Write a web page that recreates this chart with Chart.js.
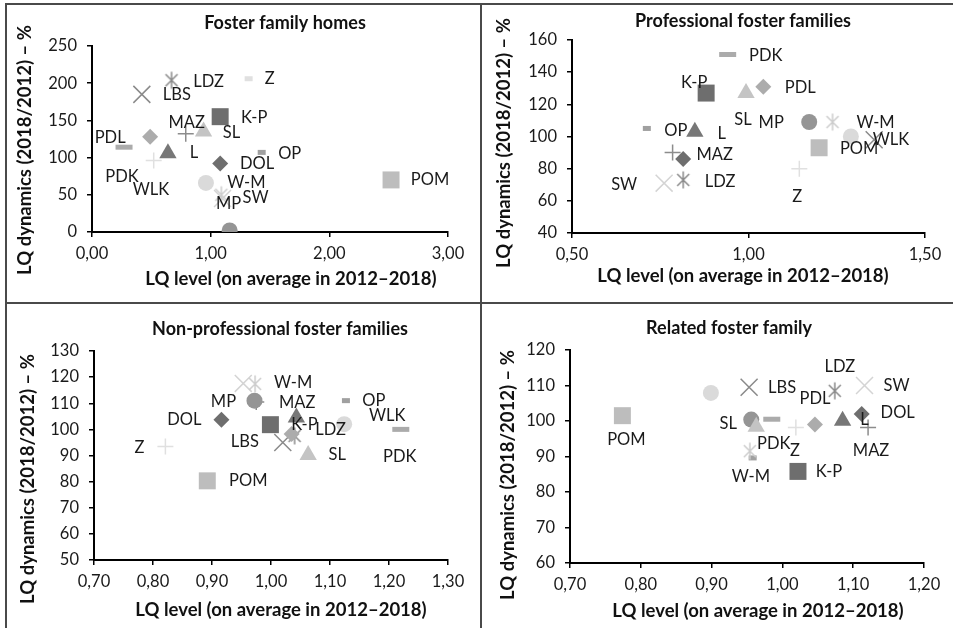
<!DOCTYPE html>
<html>
<head>
<meta charset="utf-8">
<script src="https://cdn.jsdelivr.net/npm/chart.js@4.4.0/dist/chart.umd.min.js"></script>
<style>
  body { margin: 0; background: #fff; width: 953px; height: 628px; position: relative; overflow: hidden; }
  .panel { position: absolute; }
  .rule { position: absolute; background: #4a4a4a; }
</style>
</head>
<body>
<div class="rule" style="left:5px;top:3px;width:948px;height:2px"></div>
<div class="rule" style="left:5px;top:3px;width:2px;height:625px"></div>
<div class="rule" style="left:480px;top:3px;width:2px;height:625px"></div>
<div class="rule" style="left:5px;top:302px;width:948px;height:2px"></div>

<div class="panel" style="left:7px;top:5px;width:473px;height:297px"><canvas id="c1"></canvas></div>
<div class="panel" style="left:482px;top:5px;width:471px;height:297px"><canvas id="c2"></canvas></div>
<div class="panel" style="left:7px;top:304px;width:473px;height:324px"><canvas id="c3"></canvas></div>
<div class="panel" style="left:482px;top:304px;width:471px;height:324px"><canvas id="c4"></canvas></div>

<script>
// --- data ---
var regions = ['DOL', 'K-P', 'L', 'LBS', 'LDZ', 'MAZ', 'MP', 'OP', 'PDK', 'PDL', 'POM', 'SL', 'SW', 'W-M', 'WLK', 'Z'];

// Foster family homes
var homesX = [1.08, 1.08, 0.64, 0.42, 0.67, 0.79, 1.16, 1.43, 0.27, 0.49, 2.52, 0.94, 1.10, 1.09, 0.96, 0.52];
var homesY = [92, 155, 106, 185, 204, 132, 2, 107, 114, 128, 70, 135, 45, 50, 66, 96];
var homesExtraX = [1.32];   // unlabelled marker near the top
var homesExtraY = [206];

// Professional foster families
var profX = [0.815, 0.88, 0.848, 1.356, 0.815, 0.785, 1.172, 0.712, 0.941, 1.042, 1.20, 0.993, 0.761, 1.238, 1.29, 1.144];
var profY = [86, 127, 103, 98, 73, 90, 109, 105, 151, 131, 93, 127, 71, 109, 100, 80];

// Non-professional foster families
var nonProfX = [0.916, 0.999, 1.043, 1.02, 1.04, 0.975, 0.972, 1.127, 1.22, 1.035, 0.892, 1.063, 0.953, 0.973, 1.124, 0.821];
var nonProfY = [103.7, 101.8, 104.5, 95, 97.5, 110.5, 111, 111, 100, 98.2, 80.3, 90.2, 117.6, 117.4, 102, 93.4];

// Related foster family
var relX = [1.112, 1.022, 1.085, 0.953, 1.074, 1.121, 0.956, 0.958, 0.985, 1.046, 0.774, 0.963, 1.116, 0.954, 0.899, 1.019];
var relY = [102, 85.8, 100.1, 109.5, 108.5, 98.2, 100.4, 89.6, 100.5, 99, 101.5, 98.4, 110, 91.5, 107.9, 98.2];

var xTitle = 'LQ level (on average in 2012–2018)';
var yTitle = 'LQ dynamics (2018/2012) – %';

// --- marker styles (Excel-like grey markers) ---
function asterisk(color) {
  var c = document.createElement('canvas');
  c.width = 20; c.height = 20;
  var g = c.getContext('2d');
  g.strokeStyle = color; g.lineWidth = 1.5;
  g.beginPath();
  g.moveTo(10, 1.5); g.lineTo(10, 18.5);
  g.moveTo(4, 4); g.lineTo(16, 16);
  g.moveTo(16, 4); g.lineTo(4, 16);
  g.stroke();
  return c;
}
var markers = {
  'DOL': { style: 'rectRot', color: '#6e6e6e', r: 8 },
  'K-P': { style: 'rect', color: '#6e6e6e', r: 12 },
  'L':   { style: 'triangle', color: '#777777', r: 10 },
  'LBS': { style: 'crossRot', color: '#8a8a8a', r: 12, w: 1.5 },
  'LDZ': { style: asterisk('#8a8a8a'), color: '#8a8a8a', r: 9 },
  'MAZ': { style: 'cross', color: '#8c8c8c', r: 8, w: 1.5 },
  'MP':  { style: 'circle', color: '#959595', r: 8 },
  'OP':  { style: 'line', color: '#a0a0a0', r: 4, w: 5 },
  'PDK': { style: 'line', color: '#ababab', r: 8.5, w: 5 },
  'PDL': { style: 'rectRot', color: '#acacac', r: 8 },
  'POM': { style: 'rect', color: '#bdbdbd', r: 12 },
  'SL':  { style: 'triangle', color: '#c4c4c4', r: 10 },
  'SW':  { style: 'crossRot', color: '#d4d4d4', r: 12, w: 1.5 },
  'W-M': { style: asterisk('#cdcdcd'), color: '#cdcdcd', r: 9 },
  'WLK': { style: 'circle', color: '#dadada', r: 8 },
  'Z':   { style: 'cross', color: '#e0e0e0', r: 8, w: 1.5 },
  'extra': { style: 'line', color: '#e0e0e0', r: 4, w: 5 }
};

// label offsets from each marker, in pixels (null = no label)
var homesLabels = [[37,0],[34,1],[26,0],[35,0],[37,1],[1,-11],[-1,-27],[28,1],[-2,29],[-40,1],[39,0],[28,1],[33,-1],[25,-12],[-55,7],[116,-82]];
var profLabels = [null,[-12,-10],[27,2],null,[37,2],[42,2],[-38,1],[29,2],[38,1],[37,1],[40,1],[-3,27],[-40,2],[43,1],[40,3],[-2,28]];
var nonProfLabels = [[-37,0],[34,0],null,[-38,-1],[36,-6],[41,1],[-31,1],[28,0],[-1,27],null,[41,0],[29,0],null,[38,-1],[43,-8],[-26,1]];
var relLabels = [[36,-1],[31,0],[22,-1],[33,0],[5,-24],[3,23],null,null,[2,24],[0,-26],[4,24],[-28,-3],[32,0],[1,25],null,[-1,23]];

Chart.defaults.font.family = 'Lato';
Chart.defaults.color = '#1a1a1a';

var panelText = {
  id: 'panelText',
  afterDraw: function(chart, args, o) {
    var ctx = chart.ctx;
    ctx.save();
    ctx.fillStyle = '#111';
    ctx.textAlign = 'center';
    ctx.textBaseline = 'middle';
    ctx.font = 'bold 18px Lato';
    ctx.fillText(o.title, o.t[0], o.t[1]);
    ctx.font = 'bold 18.5px Lato';
    ctx.fillText(xTitle, o.x[0], o.x[1]);
    ctx.translate(o.y[0], o.y[1]);
    ctx.rotate(-Math.PI / 2);
    ctx.fillText(yTitle, 0, 0);
    ctx.restore();

    // data labels
    ctx.save();
    ctx.font = '16.5px Lato';
    ctx.fillStyle = '#1a1a1a';
    ctx.textAlign = 'center';
    ctx.textBaseline = 'middle';
    chart.data.datasets.forEach(function(ds, i) {
      var off = ds.labelOffset;
      if (!off) return;
      var el = chart.getDatasetMeta(i).data[0];
      ctx.fillText(ds.label, el.x + off[0], el.y + off[1]);
    });
    ctx.restore();
  }
};

function fmtX(v) { return v.toFixed(2).replace('.', ','); }

function makeChart(id, xs, ys, labels, extra, cfg) {
  var datasets = regions.map(function(name, i) {
    var m = markers[name];
    return {
      label: name,
      data: [{ x: xs[i], y: ys[i] }],
      pointStyle: m.style,
      pointRadius: m.r,
      pointBackgroundColor: m.color,
      pointBorderColor: m.color,
      pointBorderWidth: m.w || 0,
      labelOffset: labels[i],
      order: regions.length - i
    };
  });
  if (extra) {
    var m = markers.extra;
    datasets.push({
      label: '',
      data: [{ x: extra[0][0], y: extra[1][0] }],
      pointStyle: m.style, pointRadius: m.r,
      pointBackgroundColor: m.color, pointBorderColor: m.color,
      pointBorderWidth: m.w, labelOffset: null, order: 0
    });
  }
  return new Chart(document.getElementById(id), {
    type: 'scatter',
    data: { datasets: datasets },
    options: {
      responsive: true,
      maintainAspectRatio: false,
      animation: false,
      layout: { padding: { top: cfg.top, right: cfg.right, left: 0, bottom: 0 } },
      plugins: {
        legend: { display: false },
        tooltip: { enabled: false },
        panelText: { title: cfg.title, t: cfg.t, x: cfg.xt, y: cfg.yt }
      },
      scales: {
        x: {
          min: cfg.xmin, max: cfg.xmax,
          afterFit: function(s) { s.height = cfg.xh; },
          ticks: { stepSize: cfg.xstep, font: { size: 16.5 }, padding: 7, maxRotation: 0, autoSkip: false,
                   callback: function(v) { return fmtX(v); } },
          grid: { drawOnChartArea: false, drawTicks: true, tickLength: 5, color: '#000', lineWidth: 1.5 },
          border: { color: '#000', width: 2 }
        },
        y: {
          min: cfg.ymin, max: cfg.ymax,
          afterFit: function(s) { s.width = cfg.yw; },
          ticks: { stepSize: cfg.ystep, font: { size: 16.5 }, padding: 10, autoSkip: false },
          grid: { drawOnChartArea: false, drawTicks: true, tickLength: 5, color: '#000', lineWidth: 1.5 },
          border: { color: '#000', width: 2 }
        }
      }
    },
    plugins: [panelText]
  });
}

makeChart('c1', homesX, homesY, homesLabels, [homesExtraX, homesExtraY], {
  title: 'Foster family homes', t: [278, 18], xt: [284, 274], yt: [18, 145],
  top: 41, right: 32, yw: 85, xh: 70,
  xmin: 0, xmax: 3, xstep: 1, ymin: 0, ymax: 250, ystep: 50
});
makeChart('c2', profX, profY, profLabels, null, {
  title: 'Professional foster families', t: [261, 16], xt: [261, 271], yt: [22, 138],
  top: 35, right: 28, yw: 90, xh: 69,
  xmin: 0.5, xmax: 1.5, xstep: 0.5, ymin: 40, ymax: 160, ystep: 20
});
makeChart('c3', nonProfX, nonProfY, nonProfLabels, null, {
  title: 'Non-professional foster families', t: [273, 25], xt: [274, 306], yt: [21, 175],
  top: 47, right: 32, yw: 87, xh: 68,
  xmin: 0.7, xmax: 1.3, xstep: 0.1, ymin: 50, ymax: 130, ystep: 10
});
makeChart('c4', relX, relY, relLabels, null, {
  title: 'Related foster family', t: [247, 24], xt: [276, 307], yt: [26, 171],
  top: 46, right: 29, yw: 88, xh: 65,
  xmin: 0.7, xmax: 1.2, xstep: 0.1, ymin: 60, ymax: 120, ystep: 10
});
</script>
</body>
</html>
